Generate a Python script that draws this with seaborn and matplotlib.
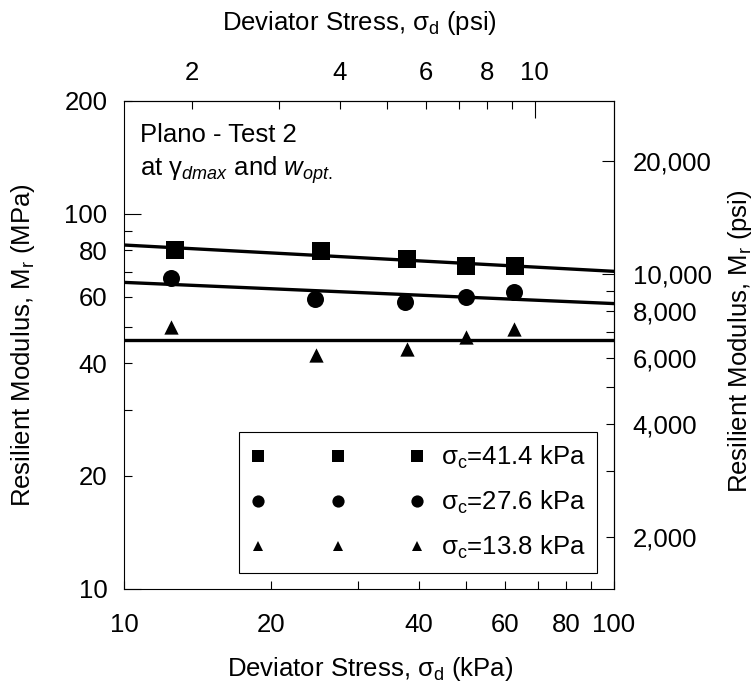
import numpy as np
import matplotlib
matplotlib.use('Agg')
import matplotlib.pyplot as plt
from matplotlib.ticker import FixedLocator, FuncFormatter
from matplotlib.lines import Line2D
import seaborn as sns

# deviator stress (kPa) and resilient modulus (MPa)
sd_414 = [12.7, 25.2, 37.8, 50.0, 62.8]
mr_414 = [79.8, 79.3, 75.7, 72.4, 72.7]
sd_276 = [12.5, 24.6, 37.4, 50.0, 62.5]
mr_276 = [67.4, 59.2, 58.0, 59.8, 61.7]
sd_138 = [12.5, 24.7, 37.8, 50.0, 62.6]
mr_138 = [49.8, 42.1, 43.6, 46.9, 49.3]

# fitted lines, value at each end of the x range
fit_x = [10, 100]
fit_414 = [82.5, 70.2]
fit_276 = [65.6, 57.6]
fit_138 = [46.1, 46.1]

legend_labels = [r'$\mathrm{\sigma_c}$=41.4 kPa',
                 r'$\mathrm{\sigma_c}$=27.6 kPa',
                 r'$\mathrm{\sigma_c}$=13.8 kPa']

x_ticks_kpa = [20, 30, 40, 50, 60, 70, 80, 90]
x_labels_kpa = [10, 20, 40, 60, 80, 100]
y_ticks_mpa = [20, 30, 40, 50, 60, 70, 80, 90, 200]
y_labels_mpa = [10, 20, 40, 60, 80, 100, 200]
top_ticks_psi = [2, 3, 4, 5, 6, 7, 8, 9]
top_labels_psi = [2, 4, 6, 8, 10]
right_ticks_psi = [2000, 3000, 4000, 5000, 6000, 7000, 8000, 9000]
right_labels_psi = [2000, 4000, 6000, 8000, 10000, 20000]

KPA_PER_PSI = 6.894757
PSI_PER_MPA = 145.0377

sns.set_style('ticks')
plt.rcParams['font.family'] = ['Liberation Sans', 'DejaVu Sans']
plt.rcParams['mathtext.fontset'] = 'custom'
plt.rcParams['mathtext.rm'] = 'Liberation Sans'
plt.rcParams['mathtext.it'] = 'Liberation Sans:italic'
plt.rcParams['mathtext.sf'] = 'Liberation Sans'
for key in ['text.color', 'axes.labelcolor', 'xtick.color', 'ytick.color', 'axes.edgecolor']:
    plt.rcParams[key] = 'black'
FS = 18.5

fig = plt.figure(figsize=(7.56, 6.9), dpi=100)
ax = fig.add_axes([0.164, 0.1464, 0.648, 0.7077])

sns.lineplot(x=fit_x, y=fit_414, color='black', linewidth=2.4, ax=ax, legend=False)
sns.lineplot(x=fit_x, y=fit_276, color='black', linewidth=2.4, ax=ax, legend=False)
sns.lineplot(x=fit_x, y=fit_138, color='black', linewidth=2.4, ax=ax, legend=False)
sns.scatterplot(x=sd_414, y=mr_414, marker='s', s=150, color='black', linewidth=0,
                ax=ax, legend=False, zorder=3)
sns.scatterplot(x=sd_276, y=mr_276, marker='o', s=150, color='black', linewidth=0,
                ax=ax, legend=False, zorder=3)
sns.scatterplot(x=sd_138, y=mr_138, marker='^', s=106, color='black', linewidth=0,
                ax=ax, legend=False, zorder=3)

ax.set_xscale('log')
ax.set_yscale('log')
ax.set_xlim(10, 100)
ax.set_ylim(10, 200)
ax.set_xlabel('')
ax.set_ylabel('')


def pick(labels):
    return FuncFormatter(lambda v, p: f'{v:g}' if round(v, 3) in labels else '')


ax.xaxis.set_major_locator(FixedLocator([10, 100]))
ax.xaxis.set_minor_locator(FixedLocator(x_ticks_kpa))
ax.xaxis.set_major_formatter(pick(x_labels_kpa))
ax.xaxis.set_minor_formatter(pick(x_labels_kpa))
ax.yaxis.set_major_locator(FixedLocator([10, 100]))
ax.yaxis.set_minor_locator(FixedLocator(y_ticks_mpa))
ax.yaxis.set_major_formatter(pick(y_labels_mpa))
ax.yaxis.set_minor_formatter(pick(y_labels_mpa))
ax.tick_params(axis='x', which='both', direction='in', length=6, width=0.8,
               labelsize=FS, pad=17, top=False)
ax.tick_params(axis='y', which='major', direction='in', length=12, width=0.8,
               labelsize=FS, pad=12, right=False)
ax.tick_params(axis='y', which='minor', direction='in', length=6, width=0.8,
               labelsize=FS, pad=12, right=False)
for sp in ax.spines.values():
    sp.set_visible(True)
    sp.set_linewidth(0.8)
    sp.set_color('black')

# psi axes
top = ax.secondary_xaxis('top', functions=(lambda v: v / KPA_PER_PSI,
                                           lambda v: v * KPA_PER_PSI))
top.xaxis.set_major_locator(FixedLocator([10]))
top.xaxis.set_minor_locator(FixedLocator(top_ticks_psi))
top.xaxis.set_major_formatter(pick(top_labels_psi))
top.xaxis.set_minor_formatter(pick(top_labels_psi))
top.tick_params(which='major', direction='in', length=12, width=0.8, labelsize=FS, pad=11)
top.tick_params(which='minor', direction='in', length=6, width=0.8, labelsize=FS, pad=11)
top.spines['top'].set_linewidth(0.8)

right = ax.secondary_yaxis('right', functions=(lambda v: v * PSI_PER_MPA,
                                               lambda v: v / PSI_PER_MPA))
right.yaxis.set_major_locator(FixedLocator([10000, 20000]))
right.yaxis.set_minor_locator(FixedLocator(right_ticks_psi))
comma = FuncFormatter(lambda v, p: f'{int(round(v)):,}' if int(round(v)) in right_labels_psi else '')
right.yaxis.set_major_formatter(comma)
right.yaxis.set_minor_formatter(comma)
right.tick_params(which='major', direction='in', length=9, width=0.8, labelsize=FS, pad=13.5)
right.tick_params(which='minor', direction='in', length=6, width=0.8, labelsize=FS, pad=13.5)
right.spines['right'].set_linewidth(0.8)

# axis titles
fig.text(0.489, 0.030, r'Deviator Stress, $\mathrm{\sigma_d}$ (kPa)', fontsize=FS,
         ha='center', va='center')
fig.text(0.476, 0.967, r'Deviator Stress, $\mathrm{\sigma_d}$ (psi)', fontsize=FS,
         ha='center', va='center')
fig.text(0.030, 0.50, r'Resilient Modulus, $\mathrm{M_r}$ (MPa)', fontsize=FS,
         ha='center', va='center', rotation=90)
fig.text(0.979, 0.505, r'Resilient Modulus, $\mathrm{M_r}$ (psi)', fontsize=FS,
         ha='center', va='center', rotation=90)

ax.text(0.033, 0.93, 'Plano - Test 2', transform=ax.transAxes, fontsize=FS,
        ha='left', va='center')
ax.text(0.033, 0.858, r'at $\mathrm{\gamma}_{dmax}$ and $w_{opt.}$', transform=ax.transAxes,
        fontsize=FS, ha='left', va='center')

handles = [
    Line2D([], [], linestyle='None', marker='s', markersize=8.6, color='black', markeredgewidth=0),
    Line2D([], [], linestyle='None', marker='o', markersize=8.8, color='black', markeredgewidth=0),
    Line2D([], [], linestyle='None', marker='^', markersize=7.6, color='black', markeredgewidth=0),
]
leg = ax.legend(handles, legend_labels, loc='lower right', bbox_to_anchor=(0.965, 0.033),
                borderaxespad=0, numpoints=3, fontsize=FS, handlelength=6.8,
                handletextpad=0.6, labelspacing=0.7, borderpad=0.45,
                fancybox=False, framealpha=1, edgecolor='black')
leg.get_frame().set_linewidth(0.8)

fig.savefig('out.png', dpi=100)
